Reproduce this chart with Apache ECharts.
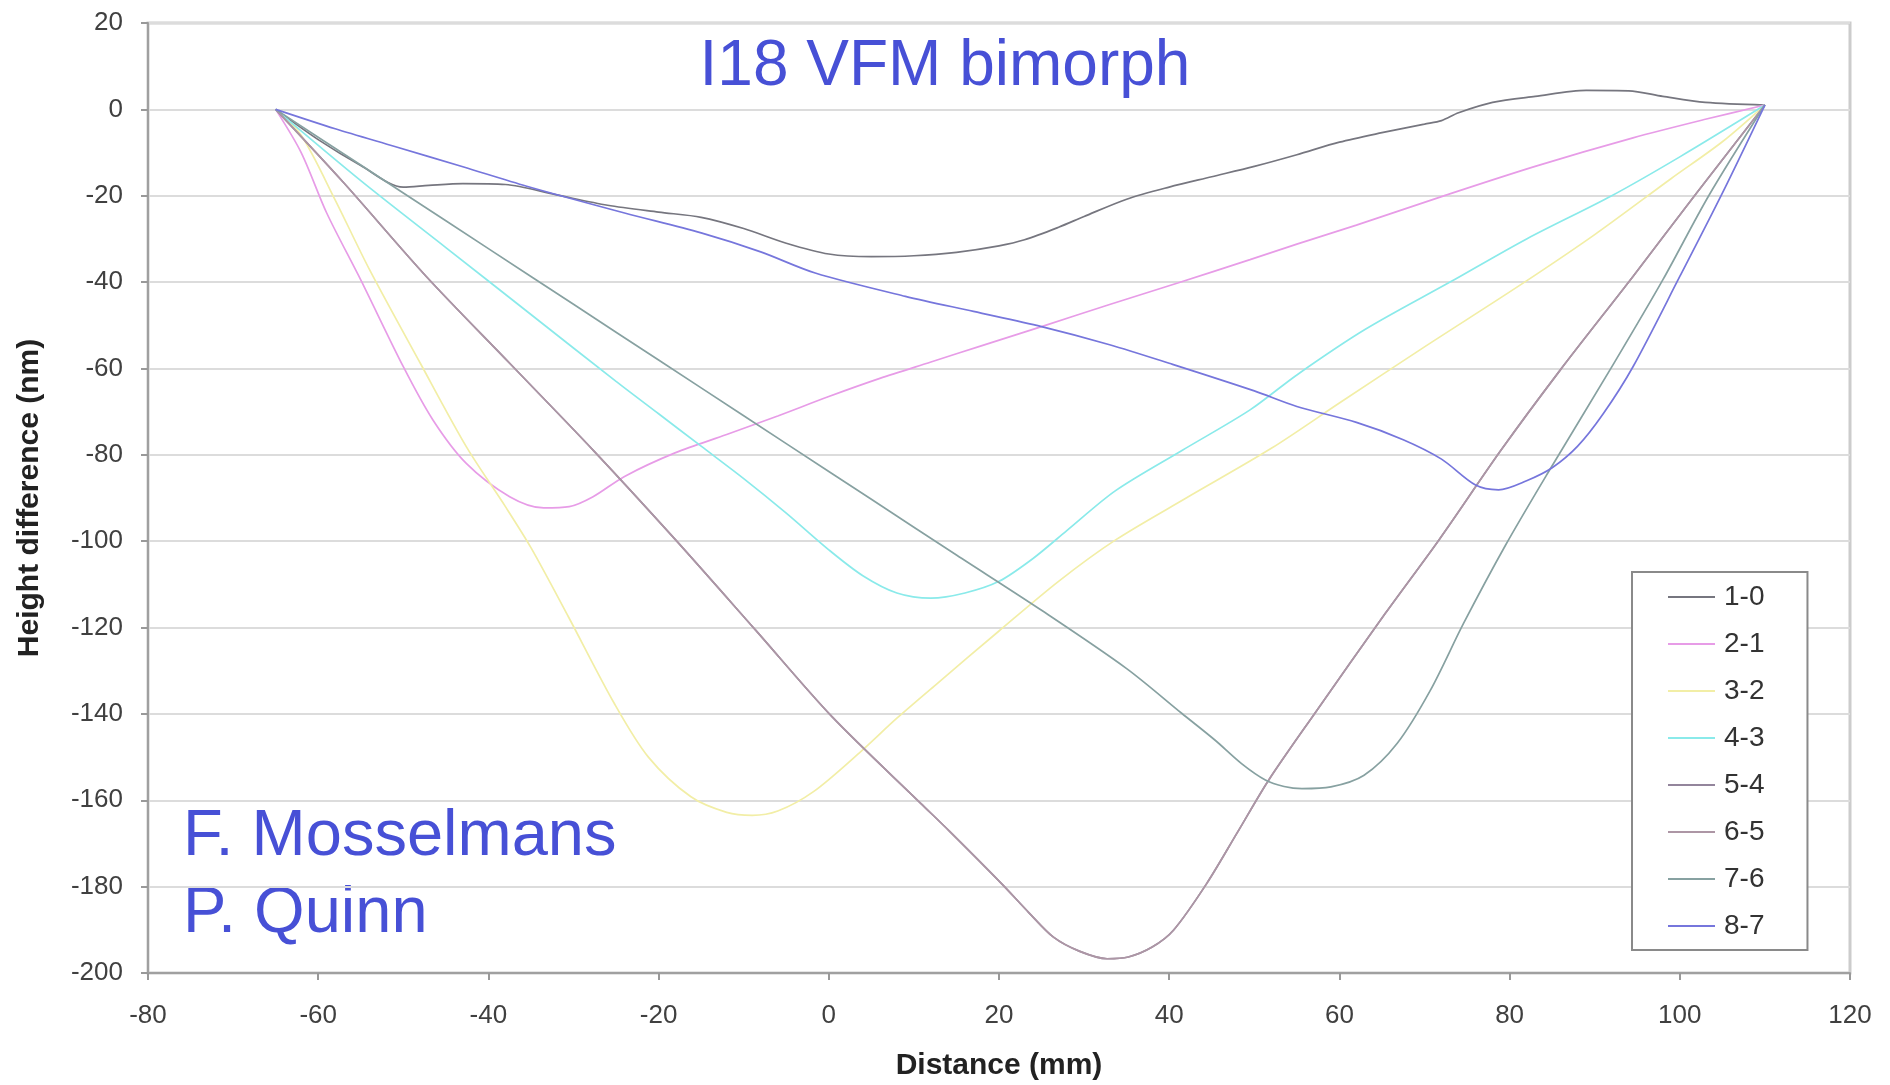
<!DOCTYPE html>
<html><head><meta charset="utf-8">
<script src="https://cdn.jsdelivr.net/npm/echarts@6/dist/echarts.min.js"></script>
<style>html,body{margin:0;padding:0;background:#fff}#c{width:1890px;height:1085px}</style>
</head><body><div id="c"></div>
<script>
const seriesNames = ['1-0','2-1','3-2','4-3','5-4','6-5','7-6','8-7'];
const seriesColors = ['#76767f','#e79ce7','#f2eea6','#8aeaea','#93859c','#ad96a5','#87a1a1','#7676dc'];

const x10 = [-65,-60,-55,-50,-47,-43,-38,-32,-26,-20,-15,-10,-5,0,5,10,15,20,23,27,30,35,40,45,50,55,60,65,70,72,74,78,83,89,94,98,103,110];
const y10 = [0,-7,-13,-18,-17.6,-17.2,-17.4,-19.8,-22.2,-23.8,-25,-27.6,-31,-33.5,-34.1,-33.9,-33.1,-31.6,-30.2,-27.3,-24.8,-20.8,-18,-15.6,-13.2,-10.5,-7.6,-5.4,-3.4,-2.6,-0.8,1.6,3,4.4,4.3,3,1.6,1];

const x21 = [-65,-62,-59,-55,-50,-46.5,-42.6,-37.5,-33.5,-30.5,-27.7,-24,-18,-12,-6,0,6,12,18,25,33,41,49.5,55,62,72,83,94.5,103,110];
const y21 = [0,-10,-24,-39.5,-59.6,-72,-82,-89.7,-92.3,-92,-89.7,-85,-79.5,-75.3,-71,-66.5,-62.3,-58.5,-54.7,-50.3,-45.2,-40.2,-34.8,-31.2,-26.8,-20.2,-13.2,-6.6,-2.3,1];

const x32 = [-65,-62,-58,-54,-48,-42.6,-38,-35,-30.6,-25.2,-21.2,-16.2,-12,-9,-6,-1.8,3.6,8,12.6,20,27,33.7,42,52,60,70,81,90,99,105,110];
const y32 = [0,-6,-21,-37,-58.8,-78.1,-92,-101.5,-117.5,-137.6,-150,-159.2,-162.8,-163.5,-162.5,-158,-149,-141,-133.2,-120.8,-109.3,-99.7,-90,-78.5,-68,-55,-41,-29,-16,-7.5,1];

const x43 = [-65,-55,-45,-35,-25,-20,-15,-10,-5,0,4,8,12,16,20,24,28,33.7,41.5,49.5,55,63,73,82,92,100,110];
const y43 = [0,-16.5,-32,-47.5,-63,-70.5,-78,-85.5,-93.5,-102,-108,-112,-113.2,-112,-109.3,-104,-97.5,-88.3,-79,-69.6,-61.5,-51,-40,-30,-20,-11,1];

const x54 = [-65,-57,-47.3,-37.5,-27.7,-18,-8.6,0.4,10.8,14.2,20.3,23.5,26.4,29.5,32.7,35.2,38,40.5,44.4,48,51.7,57.1,65.4,71.7,79,85.9,94.5,102,110];
const y54 = [0,-17,-38.7,-58.8,-78.9,-99.7,-120.6,-140.7,-160.7,-167.2,-179.3,-186,-191.7,-195,-196.7,-196.3,-194,-190.1,-179.3,-167.5,-155.3,-139.9,-116.7,-99.7,-78.9,-60.5,-38.7,-19.3,1];

const x65 = [-65,-57,-47.3,-37.5,-27.7,-18,-8.6,0.4,10.8,14.2,20.3,23.5,26.4,29.5,32.7,35.2,38,40.5,44.4,48,51.7,57.1,65.4,71.7,79,85.9,94.5,102,110];
const y65 = [0,-17,-38.7,-58.8,-78.9,-99.7,-120.6,-140.7,-160.7,-167.2,-179.3,-186,-191.7,-195,-196.7,-196.3,-194,-190.1,-179.3,-167.5,-155.3,-139.9,-116.7,-99.7,-78.9,-60.5,-38.7,-19.3,1];

const x76 = [-65,-55,-45,-35,-25,-15,-5,5,15,25,35,41.5,45.4,48.5,51.3,53.5,55.6,59,62.9,66.8,70.7,74.6,79.5,84.4,92.2,98,103.4,110];
const y76 = [0,-12.9,-25.8,-38.7,-51.6,-64.5,-77.4,-90.3,-103.2,-116,-129.5,-139.9,-146.1,-151.5,-155.3,-156.8,-157.3,-156.9,-154.2,-146.8,-134.5,-119,-101,-84.5,-59,-39.5,-20,1];

const x87 = [-65,-58,-51,-43,-35.5,-24,-15,-8,-1.6,9,17,25,33,40,50,55,62,67.5,72,76,78.7,82,85,88,91,94.5,100,105,110];
const y87 = [0,-4.5,-8.6,-13.3,-17.8,-24,-28.6,-33,-37.9,-43.3,-46.8,-50.3,-54.5,-58.8,-65.2,-68.8,-72.5,-76.5,-81,-87,-88.1,-86,-83,-78,-70.5,-59.6,-38.7,-19.4,1];

const xsList = [x10,x21,x32,x43,x54,x65,x76,x87];
const ysList = [y10,y21,y32,y43,y54,y65,y76,y87];

const FONT = "'Liberation Sans', Arial, sans-serif";
const pair = (xs, ys) => xs.map((x, i) => [x, ys[i]]);

const chart = echarts.init(document.getElementById('c'), null, {renderer: 'canvas'});
chart.setOption({
  animation: false,
  backgroundColor: '#ffffff',
  title: {
    text: 'I18 VFM bimorph',
    left: 'center', top: 35, padding: [0, 0, 0, 10],
    textStyle: {fontFamily: FONT, fontSize: 64, fontWeight: 'normal', color: '#4750d6'}
  },
  graphic: [
    {type: 'text', left: 183, top: 805, style: {text: 'F. Mosselmans', font: "65px 'Liberation Sans', Arial, sans-serif", fill: '#4750d6'}},
    {type: 'text', left: 183, top: 882, style: {text: 'P. Quinn', font: "65px 'Liberation Sans', Arial, sans-serif", fill: '#4750d6'}}
  ],
  grid: {
    left: 148, right: 40, top: 23, bottom: 112,
    containLabel: false, outerBoundsMode: 'none',
    show: true, borderColor: '#cccccc', borderWidth: 3, backgroundColor: 'transparent'
  },
  legend: {
    orient: 'vertical',
    left: 1632, top: 572,
    padding: [11, 43, 10, 36],
    itemGap: 19,
    icon: 'rect',
    itemWidth: 47, itemHeight: 2,
    backgroundColor: '#ffffff',
    borderColor: '#8a8a8a', borderWidth: 2, borderRadius: 0,
    data: seriesNames,
    textStyle: {fontFamily: FONT, fontSize: 28, lineHeight: 28, color: '#333333', padding: [0, 0, 0, 4]}
  },
  xAxis: {
    type: 'value', min: -80, max: 120, interval: 20,
    name: 'Distance (mm)', nameLocation: 'middle', nameGap: 78,
    nameTextStyle: {fontFamily: FONT, fontSize: 30, fontWeight: 'bold', color: '#222222'},
    axisLine: {show: true, onZero: false, lineStyle: {color: '#a0a0a0', width: 2}},
    axisTick: {show: true, length: 7, lineStyle: {color: '#999999', width: 2}},
    axisLabel: {margin: 30, fontFamily: FONT, fontSize: 26, color: '#404040'},
    splitLine: {show: false}
  },
  yAxis: {
    type: 'value', min: -200, max: 20, interval: 20,
    name: 'Height difference (nm)', nameLocation: 'middle', nameGap: 103, nameRotate: 90,
    nameTextStyle: {fontFamily: FONT, fontSize: 30, fontWeight: 'bold', color: '#222222'},
    axisLine: {show: true, onZero: false, lineStyle: {color: '#a0a0a0', width: 2}},
    axisTick: {show: true, length: 7, lineStyle: {color: '#999999', width: 2}},
    axisLabel: {margin: 25, fontFamily: FONT, fontSize: 26, color: '#404040'},
    splitLine: {show: true, lineStyle: {color: '#dcdcdc', width: 2}}
  },
  series: seriesNames.map((name, i) => ({
    name: name,
    type: 'line',
    data: pair(xsList[i], ysList[i]),
    symbol: 'none',
    smooth: 0.3,
    lineStyle: {color: seriesColors[i], width: 1.7},
    itemStyle: {color: seriesColors[i]}
  }))
});
</script>
</body></html>
